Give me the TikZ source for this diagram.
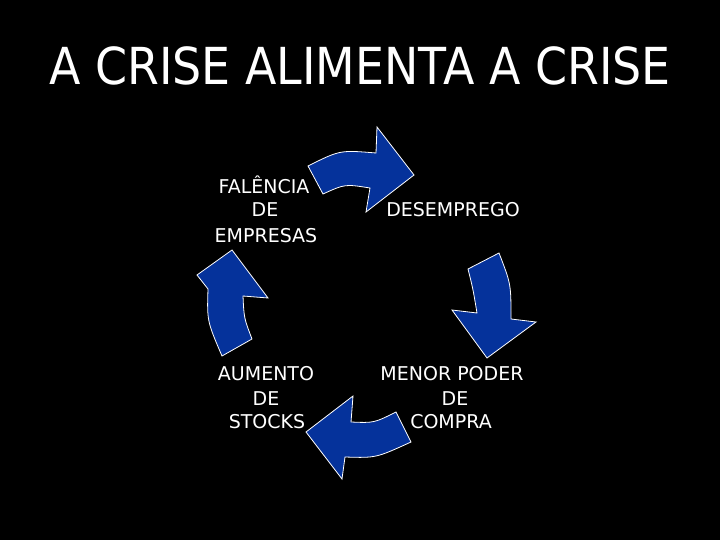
\documentclass[tikz,border=0pt]{standalone}
\usepackage{fontspec}
\setmainfont{DejaVu Sans}
\definecolor{arrowblue}{RGB}{5,50,155}
\tikzset{
  bigarrow/.style={fill=arrowblue, draw=white, line width=0.8pt, line join=miter},
  lbl/.style={text=white, font=\fontsize{19}{22}\selectfont, anchor=base, inner sep=0pt},
  ttl/.style={text=white, font=\fontsize{51}{56}\selectfont, anchor=base, inner sep=0pt, xscale=0.9}
}
\begin{document}
\begin{tikzpicture}[x=1pt,y=-1pt]
\fill[black] (0,0) rectangle (720,540);
\useasboundingbox (0,0) rectangle (720,540);

\node[ttl] (title) at (360,85) {A CRISE ALIMENTA A CRISE};

% labels
\node[lbl] (f1) at (264,194) {FALÊNCIA};
\node[lbl] (f2) at (265,217) {DE};
\node[lbl] (f3) at (266,242) {EMPRESAS};
\node[lbl] (d1) at (453,217) {DESEMPREGO};
\node[lbl] (a1) at (266,380) {AUMENTO};
\node[lbl] (a2) at (266,405) {DE};
\node[lbl] (a3) at (267,428) {STOCKS};
\node[lbl] (m1) at (452,380) {MENOR PODER};
\node[lbl] (m2) at (455,405) {DE};
\node[lbl] (m3) at (451,428) {COMPRA};

% top arrow
\draw[bigarrow] (308,166) .. controls (340,150) .. (376,153) -- (377,127) -- (414,175)
  -- (366,212) -- (370,188) .. controls (345,184) .. (323,194) -- cycle;
% right arrow
\draw[bigarrow] (468,269) -- (499,253) .. controls (511,284) .. (511,319) -- (536,322)
  -- (487,358) -- (452,310) -- (477,313) .. controls (473,289) .. cycle;
% bottom arrow
\draw[bigarrow] (396,412) -- (411,442) .. controls (376,458) .. (345,457) -- (342,479)
  -- (306,432) -- (353,396) -- (351,422) .. controls (374,423) .. cycle;
% left arrow
\draw[bigarrow] (222,356) -- (252,339) .. controls (244,318) .. (243,296) -- (268,298)
  -- (232,250) -- (197,275) -- (208,289) .. controls (207,321) .. cycle;
\end{tikzpicture}
\end{document}
